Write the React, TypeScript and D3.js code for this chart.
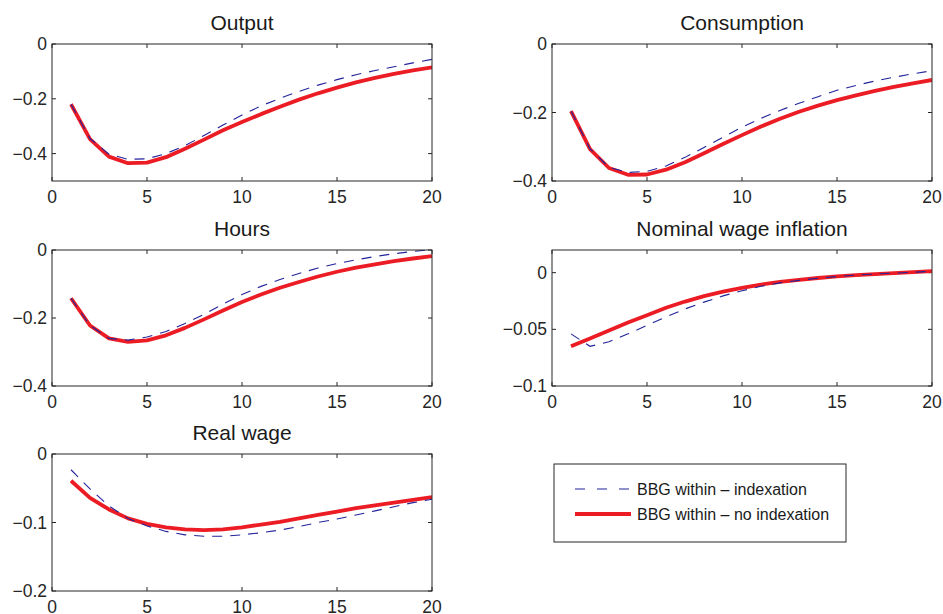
import React, { useEffect, useRef } from 'react';
import * as d3 from 'd3';

// quarters after the shock
const periods = d3.range(1, 21);

const outputIdx = [-0.22, -0.345, -0.402, -0.421, -0.419, -0.4, -0.371, -0.334, -0.296, -0.259, -0.226, -0.198, -0.173, -0.15, -0.13, -0.112, -0.097, -0.083, -0.069, -0.056];
const outputNoIdx = [-0.22, -0.347, -0.411, -0.435, -0.433, -0.413, -0.382, -0.349, -0.315, -0.285, -0.256, -0.229, -0.203, -0.18, -0.159, -0.14, -0.124, -0.109, -0.096, -0.085];

const consIdx = [-0.196, -0.306, -0.36, -0.375, -0.372, -0.356, -0.331, -0.302, -0.272, -0.243, -0.217, -0.194, -0.173, -0.154, -0.135, -0.121, -0.108, -0.097, -0.087, -0.078];
const consNoIdx = [-0.196, -0.307, -0.362, -0.382, -0.381, -0.367, -0.345, -0.319, -0.292, -0.266, -0.241, -0.218, -0.198, -0.18, -0.164, -0.15, -0.137, -0.125, -0.115, -0.105];

const hoursIdx = [-0.142, -0.222, -0.26, -0.265, -0.256, -0.24, -0.216, -0.189, -0.159, -0.131, -0.107, -0.087, -0.069, -0.053, -0.04, -0.029, -0.019, -0.011, -0.004, 0.001];
const hoursNoIdx = [-0.142, -0.222, -0.26, -0.27, -0.266, -0.251, -0.229, -0.204, -0.178, -0.153, -0.131, -0.111, -0.094, -0.078, -0.064, -0.052, -0.042, -0.033, -0.025, -0.018];

const wageInfIdx = [-0.054, -0.065, -0.061, -0.054, -0.0465, -0.039, -0.032, -0.026, -0.0205, -0.016, -0.012, -0.009, -0.0068, -0.0049, -0.0034, -0.0022, -0.0012, -0.0004, 0.0004, 0.0012];
const wageInfNoIdx = [-0.065, -0.058, -0.051, -0.044, -0.0375, -0.031, -0.0255, -0.0207, -0.0167, -0.0135, -0.0105, -0.0082, -0.0063, -0.0047, -0.0033, -0.0022, -0.0012, -0.0004, 0.0004, 0.0013];

const realWageIdx = [-0.023, -0.051, -0.076, -0.094, -0.105, -0.113, -0.118, -0.12, -0.12, -0.118, -0.115, -0.111, -0.106, -0.1, -0.095, -0.089, -0.083, -0.077, -0.071, -0.066];
const realWageNoIdx = [-0.039, -0.064, -0.081, -0.094, -0.102, -0.107, -0.11, -0.111, -0.11, -0.107, -0.103, -0.099, -0.094, -0.089, -0.084, -0.079, -0.075, -0.071, -0.067, -0.063];

const xTicks = [0, 5, 10, 15, 20];
const seriesNames = ['BBG within \u2013 indexation', 'BBG within \u2013 no indexation'];

const panels = [
  { title: 'Output', idx: outputIdx, noIdx: outputNoIdx, yDomain: [-0.5, 0], yTicks: [0, -0.2, -0.4], left: 52, top: 44, h: 137 },
  { title: 'Consumption', idx: consIdx, noIdx: consNoIdx, yDomain: [-0.4, 0], yTicks: [0, -0.2, -0.4], left: 552, top: 44, h: 137 },
  { title: 'Hours', idx: hoursIdx, noIdx: hoursNoIdx, yDomain: [-0.4, 0], yTicks: [0, -0.2, -0.4], left: 52, top: 250, h: 136 },
  { title: 'Nominal wage inflation', idx: wageInfIdx, noIdx: wageInfNoIdx, yDomain: [-0.1, 0.02], yTicks: [0, -0.05, -0.1], left: 552, top: 250, h: 136 },
  { title: 'Real wage', idx: realWageIdx, noIdx: realWageNoIdx, yDomain: [-0.2, 0], yTicks: [0, -0.1, -0.2], left: 52, top: 454, h: 137 },
];

const W = 380;
const BLUE = '#23239b';
const RED = '#ec1c24';
const AXIS = '#262626';
const FONT = '"Liberation Sans", Arial, Helvetica, sans-serif';

const fmt = (v: number) => (v === 0 ? '0' : String(v).replace('-', '\u2212'));

export default function App() {
  const svgRef = useRef<SVGSVGElement>(null);

  useEffect(() => {
    const svg = d3.select(svgRef.current);
    svg.selectAll('*').remove();

    const defs = svg.append('defs');

    panels.forEach((p, i) => {
      const x = d3.scaleLinear().domain([0, 20]).range([0, W]);
      const y = d3.scaleLinear().domain(p.yDomain).range([p.h, 0]);
      const g = svg.append('g').attr('transform', `translate(${p.left},${p.top})`);

      defs.append('clipPath').attr('id', `clip${i}`)
        .append('rect').attr('width', W).attr('height', p.h);

      // ticks, inward on all four sides
      const tickLen = 4;
      xTicks.forEach(t => {
        g.append('line').attr('x1', x(t)).attr('x2', x(t)).attr('y1', p.h).attr('y2', p.h - tickLen)
          .attr('stroke', AXIS).attr('stroke-width', 1);
        g.append('line').attr('x1', x(t)).attr('x2', x(t)).attr('y1', 0).attr('y2', tickLen)
          .attr('stroke', AXIS).attr('stroke-width', 1);
        g.append('text').attr('x', x(t)).attr('y', p.h + 22)
          .attr('text-anchor', 'middle').attr('font-family', FONT).attr('font-size', 17.5).attr('fill', AXIS)
          .text(t);
      });
      p.yTicks.forEach(t => {
        g.append('line').attr('x1', 0).attr('x2', tickLen).attr('y1', y(t)).attr('y2', y(t))
          .attr('stroke', AXIS).attr('stroke-width', 1);
        g.append('line').attr('x1', W).attr('x2', W - tickLen).attr('y1', y(t)).attr('y2', y(t))
          .attr('stroke', AXIS).attr('stroke-width', 1);
        g.append('text').attr('x', -5).attr('y', y(t)).attr('dy', '0.35em')
          .attr('text-anchor', 'end').attr('font-family', FONT).attr('font-size', 17.5).attr('fill', AXIS)
          .text(fmt(t));
      });

      const line = d3.line<number>()
        .x((_, j) => x(periods[j]))
        .y(d => y(d));

      const plot = g.append('g').attr('clip-path', `url(#clip${i})`);
      plot.append('path').datum(p.noIdx)
        .attr('fill', 'none').attr('stroke', RED).attr('stroke-width', 3.8)
        .attr('stroke-linejoin', 'round').attr('d', line);
      plot.append('path').datum(p.idx)
        .attr('fill', 'none').attr('stroke', BLUE).attr('stroke-width', 1.1)
        .attr('stroke-dasharray', '10,8').attr('d', line);

      g.append('rect').attr('width', W).attr('height', p.h)
        .attr('fill', 'none').attr('stroke', AXIS).attr('stroke-width', 1);

      g.append('text').attr('x', W / 2).attr('y', -14)
        .attr('text-anchor', 'middle').attr('font-family', FONT).attr('font-size', 21).attr('fill', '#1a1a1a')
        .text(p.title);
    });

    // legend
    const lg = svg.append('g').attr('transform', 'translate(554,464)');
    lg.append('rect').attr('width', 292).attr('height', 78)
      .attr('fill', 'white').attr('stroke', AXIS).attr('stroke-width', 1);
    const styles = [
      { color: BLUE, width: 1.1, dash: '10,12' },
      { color: RED, width: 3.8, dash: null },
    ];
    seriesNames.forEach((name, k) => {
      const yy = 25 + k * 25;
      const s = styles[k];
      const l = lg.append('line').attr('x1', 21).attr('x2', 77).attr('y1', yy).attr('y2', yy)
        .attr('stroke', s.color).attr('stroke-width', s.width);
      if (s.dash) l.attr('stroke-dasharray', s.dash);
      lg.append('text').attr('x', 83).attr('y', yy).attr('dy', '0.35em')
        .attr('font-family', FONT).attr('font-size', 16).attr('fill', '#1a1a1a')
        .text(name);
    });
  }, []);

  return (
    <svg ref={svgRef} width={943} height={614}
      style={{ position: 'absolute', left: 0, top: 0, background: 'white' }} />
  );
}
